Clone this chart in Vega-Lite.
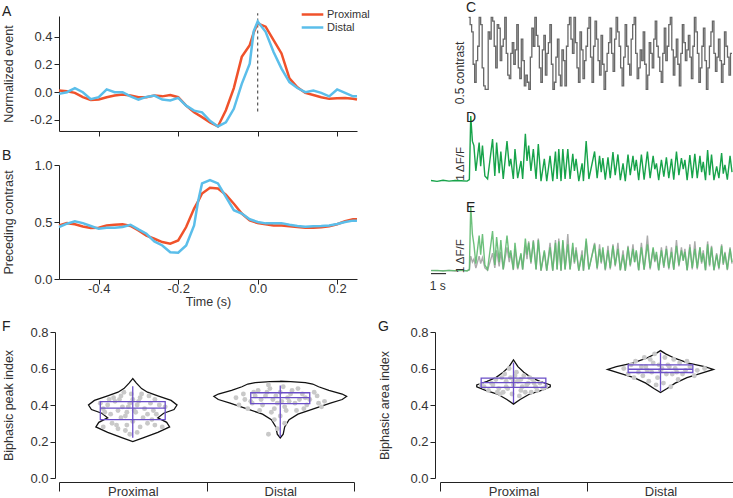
{
"$schema": "https://vega.github.io/schema/vega-lite/v6.json",
"padding": {"left": 2, "top": 0, "right": 0, "bottom": 0},
"config": {
  "view": {"stroke": null},
  "font": "Liberation Sans",
  "axis": {"labelFontSize": 13, "titleFontSize": 12.5, "titleFontWeight": "normal", "labelColor": "#333", "titleColor": "#333", "domainColor": "#222", "tickColor": "#222", "grid": false, "tickSize": 5, "labelPadding": 2, "titlePadding": 4, "labelOverlap": false},
  "title": {"fontSize": 14, "fontWeight": "normal", "color": "#222", "anchor": "start"}
},
"datasets": {
  "A": [
    {"t":-0.50,"Proximal":0.012,"Distal":-0.012},{"t":-0.48,"Proximal":0.007,"Distal":0.0},{"t":-0.46,"Proximal":-0.005,"Distal":0.03},{"t":-0.44,"Proximal":-0.036,"Distal":0.0},{"t":-0.42,"Proximal":-0.056,"Distal":-0.05},{"t":-0.40,"Proximal":-0.053,"Distal":-0.036},{"t":-0.38,"Proximal":-0.036,"Distal":0.02},{"t":-0.36,"Proximal":-0.024,"Distal":0.0},{"t":-0.34,"Proximal":-0.017,"Distal":0.0},{"t":-0.32,"Proximal":-0.024,"Distal":-0.03},{"t":-0.30,"Proximal":-0.036,"Distal":-0.053},{"t":-0.28,"Proximal":-0.036,"Distal":-0.034},{"t":-0.26,"Proximal":-0.024,"Distal":-0.024},{"t":-0.24,"Proximal":-0.03,"Distal":-0.053},{"t":-0.22,"Proximal":-0.02,"Distal":-0.06},{"t":-0.20,"Proximal":-0.036,"Distal":-0.041},{"t":-0.18,"Proximal":-0.097,"Distal":-0.097},{"t":-0.16,"Proximal":-0.145,"Distal":-0.133},{"t":-0.14,"Proximal":-0.18,"Distal":-0.145},{"t":-0.12,"Proximal":-0.218,"Distal":-0.206},{"t":-0.10,"Proximal":-0.247,"Distal":-0.247},{"t":-0.08,"Proximal":-0.13,"Distal":-0.218},{"t":-0.06,"Proximal":0.03,"Distal":-0.12},{"t":-0.04,"Proximal":0.255,"Distal":0.06},{"t":-0.02,"Proximal":0.34,"Distal":0.206},{"t":-0.01,"Proximal":0.43,"Distal":0.44},{"t":0.0,"Proximal":0.497,"Distal":0.51},{"t":0.02,"Proximal":0.473,"Distal":0.436},{"t":0.04,"Proximal":0.376,"Distal":0.29},{"t":0.06,"Proximal":0.28,"Distal":0.17},{"t":0.08,"Proximal":0.1,"Distal":0.073},{"t":0.10,"Proximal":0.036,"Distal":0.03},{"t":0.12,"Proximal":-0.005,"Distal":0.0},{"t":0.14,"Proximal":-0.02,"Distal":0.012},{"t":0.16,"Proximal":-0.036,"Distal":-0.005},{"t":0.18,"Proximal":-0.048,"Distal":-0.03},{"t":0.20,"Proximal":-0.044,"Distal":0.02},{"t":0.22,"Proximal":-0.041,"Distal":-0.005},{"t":0.24,"Proximal":-0.048,"Distal":-0.03},{"t":0.25,"Proximal":-0.053,"Distal":-0.03}
  ],
  "B": [
    {"t":-0.50,"Proximal":0.47,"Distal":0.456},{"t":-0.48,"Proximal":0.49,"Distal":0.485},{"t":-0.46,"Proximal":0.48,"Distal":0.506},{"t":-0.44,"Proximal":0.46,"Distal":0.49},{"t":-0.42,"Proximal":0.447,"Distal":0.465},{"t":-0.40,"Proximal":0.45,"Distal":0.44},{"t":-0.38,"Proximal":0.47,"Distal":0.45},{"t":-0.36,"Proximal":0.476,"Distal":0.45},{"t":-0.34,"Proximal":0.48,"Distal":0.456},{"t":-0.32,"Proximal":0.465,"Distal":0.476},{"t":-0.30,"Proximal":0.426,"Distal":0.435},{"t":-0.28,"Proximal":0.38,"Distal":0.397},{"t":-0.26,"Proximal":0.353,"Distal":0.33},{"t":-0.24,"Proximal":0.324,"Distal":0.294},{"t":-0.22,"Proximal":0.31,"Distal":0.235},{"t":-0.20,"Proximal":0.338,"Distal":0.23},{"t":-0.18,"Proximal":0.456,"Distal":0.294},{"t":-0.16,"Proximal":0.618,"Distal":0.47},{"t":-0.15,"Proximal":0.68,"Distal":0.68},{"t":-0.14,"Proximal":0.75,"Distal":0.838},{"t":-0.12,"Proximal":0.8,"Distal":0.868},{"t":-0.10,"Proximal":0.794,"Distal":0.838},{"t":-0.08,"Proximal":0.74,"Distal":0.72},{"t":-0.06,"Proximal":0.66,"Distal":0.603},{"t":-0.04,"Proximal":0.574,"Distal":0.574},{"t":-0.02,"Proximal":0.515,"Distal":0.524},{"t":0.0,"Proximal":0.49,"Distal":0.5},{"t":0.02,"Proximal":0.48,"Distal":0.488},{"t":0.04,"Proximal":0.47,"Distal":0.488},{"t":0.06,"Proximal":0.47,"Distal":0.49},{"t":0.08,"Proximal":0.462,"Distal":0.476},{"t":0.10,"Proximal":0.456,"Distal":0.465},{"t":0.12,"Proximal":0.45,"Distal":0.459},{"t":0.14,"Proximal":0.45,"Distal":0.462},{"t":0.16,"Proximal":0.453,"Distal":0.465},{"t":0.18,"Proximal":0.462,"Distal":0.47},{"t":0.20,"Proximal":0.48,"Distal":0.482},{"t":0.22,"Proximal":0.506,"Distal":0.5},{"t":0.24,"Proximal":0.524,"Distal":0.512},{"t":0.25,"Proximal":0.524,"Distal":0.51}
  ],
  "stim": [
    {"t":2.5,"c":1},{"t":2.6,"c":0.9},{"t":2.7,"c":0.8},{"t":2.8,"c":0.35},{"t":2.9,"c":0.1},{"t":3.0,"c":0.4},{"t":3.1,"c":0.6},{"t":3.2,"c":1},{"t":3.3,"c":0.9},{"t":3.4,"c":0.3},{"t":3.5,"c":0.05},{"t":3.6,"c":0.0},{"t":3.7,"c":0},{"t":3.8,"c":0.8},{"t":3.9,"c":0.7},{"t":4.0,"c":1},{"t":4.1,"c":0.95},{"t":4.2,"c":0.6},{"t":4.3,"c":0.3},{"t":4.4,"c":0.9},{"t":4.5,"c":0.85},{"t":4.6,"c":0.4},{"t":4.7,"c":0.6},{"t":4.8,"c":0.7},{"t":4.9,"c":1},{"t":5.0,"c":0.5},{"t":5.1,"c":0.2},{"t":5.2,"c":0.15},{"t":5.3,"c":0.5},{"t":5.4,"c":0.65},{"t":5.5,"c":0.35},{"t":5.6,"c":0.55},{"t":5.7,"c":0.9},{"t":5.8,"c":0.3},{"t":5.9,"c":0.15},{"t":6.0,"c":0.7},{"t":6.1,"c":0.4},{"t":6.2,"c":0.05},{"t":6.3,"c":0.2},{"t":6.4,"c":0.1},{"t":6.5,"c":0},{"t":6.6,"c":0.45},{"t":6.7,"c":0.85},{"t":6.8,"c":0.6},{"t":6.9,"c":1},{"t":7.0,"c":0.75},{"t":7.1,"c":0.6},{"t":7.2,"c":0.3},{"t":7.3,"c":0.1},{"t":7.4,"c":0.55},{"t":7.5,"c":0.75},{"t":7.6,"c":0.2},{"t":7.7,"c":0.5},{"t":7.8,"c":0.65},{"t":7.9,"c":0.9},{"t":8.0,"c":0.35},{"t":8.1,"c":0},{"t":8.2,"c":0.1},{"t":8.3,"c":0.45},{"t":8.4,"c":0.7},{"t":8.5,"c":0.2},{"t":8.6,"c":0.05},{"t":8.7,"c":0.55},{"t":8.8,"c":0.4},{"t":8.9,"c":0.05},{"t":9.0,"c":0.6},{"t":9.1,"c":0.9},{"t":9.2,"c":1},{"t":9.3,"c":0.7},{"t":9.4,"c":0.5},{"t":9.5,"c":1},{"t":9.6,"c":0.65},{"t":9.7,"c":0.3},{"t":9.8,"c":0.1},{"t":9.9,"c":0.8},{"t":10.0,"c":0.55},{"t":10.1,"c":0.15},{"t":10.2,"c":0.4},{"t":10.3,"c":0.6},{"t":10.4,"c":0.85},{"t":10.5,"c":1},{"t":10.6,"c":0.45},{"t":10.7,"c":0.1},{"t":10.8,"c":0.6},{"t":10.9,"c":0.95},{"t":11.0,"c":0.7},{"t":11.1,"c":0.4},{"t":11.2,"c":0.2},{"t":11.3,"c":0.75},{"t":11.4,"c":0.35},{"t":11.5,"c":0},{"t":11.6,"c":0.25},{"t":11.7,"c":0.5},{"t":11.8,"c":0.65},{"t":11.9,"c":0.85},{"t":12.0,"c":0.5},{"t":12.1,"c":0.25},{"t":12.2,"c":0.7},{"t":12.3,"c":1},{"t":12.4,"c":0.8},{"t":12.5,"c":0.6},{"t":12.6,"c":0.3},{"t":12.7,"c":0.05},{"t":12.8,"c":0.45},{"t":12.9,"c":0.9},{"t":13.0,"c":0.6},{"t":13.1,"c":0.35},{"t":13.2,"c":0.2},{"t":13.3,"c":0.7},{"t":13.4,"c":0.9},{"t":13.5,"c":1},{"t":13.6,"c":0.5},{"t":13.7,"c":0.15},{"t":13.8,"c":0.3},{"t":13.9,"c":0.55},{"t":14.0,"c":0.4},{"t":14.1,"c":0.8},{"t":14.2,"c":0.35},{"t":14.3,"c":0},{"t":14.4,"c":0.2},{"t":14.5,"c":0.65},{"t":14.6,"c":0.5},{"t":14.7,"c":0.3},{"t":14.8,"c":0.7},{"t":14.9,"c":0.95},{"t":15.0,"c":0.6},{"t":15.1,"c":0.45},{"t":15.2,"c":0.25},{"t":15.3,"c":0.1},{"t":15.4,"c":0.5},{"t":15.5,"c":0.85},{"t":15.6,"c":0.4},{"t":15.7,"c":0.6},{"t":15.8,"c":0.9},{"t":15.9,"c":1},{"t":16.0,"c":0.55},{"t":16.1,"c":0.2},{"t":16.2,"c":0.45},{"t":16.3,"c":0.7},{"t":16.4,"c":0.35},{"t":16.5,"c":0.05},{"t":16.6,"c":0.5},{"t":16.7,"c":0.9},{"t":16.8,"c":0.65},{"t":16.9,"c":0.4},{"t":17.0,"c":0.55},{"t":17.1,"c":0.75},{"t":17.2,"c":0.45},{"t":17.3,"c":0.15},{"t":17.4,"c":0.6},{"t":17.5,"c":1},{"t":17.6,"c":0.8},{"t":17.7,"c":0.5},{"t":17.8,"c":0.1},{"t":17.9,"c":0.3},{"t":18.0,"c":0.6},{"t":18.1,"c":0.85},{"t":18.2,"c":0.4},{"t":18.3,"c":0},{"t":18.4,"c":0.3},{"t":18.5,"c":0.6},{"t":18.6,"c":0.8},{"t":18.7,"c":0.95},{"t":18.8,"c":0.5},{"t":18.9,"c":0.25},{"t":19.0,"c":0.45},{"t":19.1,"c":0.7},{"t":19.2,"c":0.4},{"t":19.3,"c":0.1},{"t":19.4,"c":0.35},{"t":19.5,"c":0.8},{"t":19.6,"c":0.6},{"t":19.7,"c":0.45},{"t":19.8,"c":0.2},{"t":19.9,"c":0.5},{"t":20.0,"c":0.5}
  ],
  "traces": [
    {"t":0,"d":0.02,"g":0.01,"y":0.02},{"t":0.4,"d":-0.01,"g":0.02,"y":0.01},{"t":0.8,"d":0.03,"g":0.0,"y":0.01},{"t":1.2,"d":0.0,"g":0.02,"y":0.02},{"t":1.6,"d":0.02,"g":0.01,"y":0.0},{"t":2.0,"d":0.01,"g":0.03,"y":0.01},{"t":2.4,"d":0.0,"g":0.0,"y":0.01},{"t":2.55,"d":0.05,"g":0.05,"y":0.03},
    {"t":2.64,"d":2.2,"g":2.2,"y":0.5},{"t":2.75,"d":1.35,"g":1.25,"y":0.3},{"t":2.85,"d":1.2,"g":0.9,"y":0.4},{"t":2.98,"d":0.34,"g":0.25,"y":0.1},{"t":3.2,"d":1.3,"g":1.2,"y":0.5},{"t":3.3,"d":0.5,"g":0.55,"y":0.25},{"t":3.42,"d":1.2,"g":1.25,"y":0.45},{"t":3.58,"d":0.17,"g":0.2,"y":0.1},{"t":3.76,"d":0.07,"g":0.05,"y":0.02},{"t":4.09,"d":1.42,"g":1.35,"y":0.6},{"t":4.24,"d":0.17,"g":0.2,"y":0.1},{"t":4.36,"d":1.3,"g":1.15,"y":0.7},{"t":4.53,"d":0.27,"g":0.3,"y":0.15},{"t":4.64,"d":1.0,"g":1.05,"y":0.65},{"t":4.8,"d":0.07,"g":0.05,"y":0.05},{"t":5.05,"d":1.35,"g":1.2,"y":0.8},{"t":5.2,"d":0.5,"g":0.45,"y":0.3},{"t":5.3,"d":0.75,"g":0.7,"y":0.6},{"t":5.47,"d":0.07,"g":0.05,"y":0.03},{"t":5.58,"d":1.08,"g":0.95,"y":0.75},{"t":5.76,"d":0.1,"g":0.1,"y":0.05},{"t":5.98,"d":0.68,"g":0.6,"y":0.55},{"t":6.09,"d":0.07,"g":0.05,"y":0.04},{"t":6.27,"d":1.6,"g":1.1,"y":0.85},{"t":6.38,"d":0.68,"g":0.55,"y":0.4},{"t":6.49,"d":1.2,"g":0.95,"y":1.0},{"t":6.64,"d":0.34,"g":0.3,"y":0.25},{"t":6.8,"d":1.08,"g":1.0,"y":1.05},{"t":6.98,"d":0.07,"g":0.05,"y":0.05},{"t":7.13,"d":1.25,"g":1.05,"y":1.1},{"t":7.31,"d":0.0,"g":0.02,"y":0.0},{"t":7.53,"d":0.75,"g":0.7,"y":0.65},{"t":7.69,"d":0.0,"g":0.02,"y":0.0},{"t":7.91,"d":0.85,"g":0.8,"y":0.95},{"t":8.09,"d":0.0,"g":0.02,"y":0.0},{"t":8.27,"d":1.0,"g":0.95,"y":1.05},{"t":8.38,"d":0.07,"g":0.05,"y":0.05},{"t":8.49,"d":1.08,"g":1.0,"y":1.1},{"t":8.64,"d":0.0,"g":0.02,"y":0.0},{"t":8.76,"d":1.08,"g":1.05,"y":1.0},{"t":8.91,"d":0.07,"g":0.05,"y":0.05},{"t":9.09,"d":1.08,"g":0.9,"y":1.25},{"t":9.24,"d":0.07,"g":0.05,"y":0.05},{"t":9.42,"d":0.92,"g":0.95,"y":0.8},{"t":9.53,"d":0.34,"g":0.3,"y":0.25},{"t":9.64,"d":0.75,"g":0.7,"y":0.8},{"t":9.82,"d":0.0,"g":0.02,"y":0.0},{"t":10.04,"d":0.6,"g":0.55,"y":0.7},{"t":10.13,"d":0.0,"g":0.02,"y":0.0},{"t":10.31,"d":1.35,"g":1.1,"y":1.0},{"t":10.49,"d":0.07,"g":0.05,"y":0.05},
    {"t":10.87,"d":1.0,"g":0.9,"y":0.95},{"t":11.04,"d":0.1,"g":0.1,"y":0.05},{"t":11.2,"d":0.85,"g":0.75,"y":0.9},{"t":11.31,"d":0.3,"g":0.3,"y":0.25},{"t":11.42,"d":0.78,"g":0.8,"y":0.7},{"t":11.58,"d":0.05,"g":0.05,"y":0.02},{"t":11.76,"d":0.8,"g":0.7,"y":0.85},{"t":11.91,"d":0.1,"g":0.1,"y":0.05},{"t":12.09,"d":0.98,"g":0.85,"y":0.9},{"t":12.24,"d":0.2,"g":0.2,"y":0.15},{"t":12.42,"d":0.9,"g":0.75,"y":0.95},{"t":12.58,"d":0.03,"g":0.03,"y":0.02},{"t":12.76,"d":0.6,"g":0.55,"y":0.7},{"t":12.91,"d":0.0,"g":0.02,"y":0.0},{"t":13.09,"d":0.9,"g":0.8,"y":0.85},{"t":13.24,"d":0.2,"g":0.2,"y":0.15},{"t":13.42,"d":0.85,"g":0.75,"y":0.9},{"t":13.53,"d":0.35,"g":0.3,"y":0.3},{"t":13.64,"d":0.72,"g":0.7,"y":0.65},{"t":13.8,"d":0.03,"g":0.03,"y":0.02},{"t":13.98,"d":0.9,"g":0.8,"y":0.95},{"t":14.16,"d":0.05,"g":0.05,"y":0.03},{"t":14.38,"d":1.0,"g":0.9,"y":1.2},{"t":14.56,"d":0.1,"g":0.1,"y":0.05},{"t":14.76,"d":0.85,"g":0.8,"y":0.75},{"t":14.87,"d":0.4,"g":0.35,"y":0.3},{"t":14.98,"d":0.6,"g":0.65,"y":0.55},{"t":15.13,"d":0.03,"g":0.03,"y":0.02},{"t":15.31,"d":0.72,"g":0.7,"y":0.8},{"t":15.47,"d":0.15,"g":0.15,"y":0.1},{"t":15.64,"d":0.8,"g":0.75,"y":0.85},{"t":15.8,"d":0.1,"g":0.1,"y":0.05},{"t":15.98,"d":0.75,"g":0.65,"y":0.8},{"t":16.13,"d":0.05,"g":0.05,"y":0.03},{"t":16.31,"d":1.0,"g":0.85,"y":1.05},{"t":16.47,"d":0.2,"g":0.2,"y":0.15},{"t":16.64,"d":0.78,"g":0.7,"y":0.8},{"t":16.76,"d":0.4,"g":0.35,"y":0.35},{"t":16.87,"d":0.72,"g":0.65,"y":0.75},{"t":17.02,"d":0.03,"g":0.03,"y":0.02},{"t":17.2,"d":0.88,"g":0.8,"y":0.9},{"t":17.36,"d":0.1,"g":0.1,"y":0.05},{"t":17.53,"d":0.92,"g":0.75,"y":1.0},{"t":17.69,"d":0.1,"g":0.1,"y":0.05},{"t":17.87,"d":0.85,"g":0.8,"y":0.8},{"t":17.98,"d":0.3,"g":0.3,"y":0.25},{"t":18.09,"d":0.65,"g":0.6,"y":0.7},{"t":18.24,"d":0.03,"g":0.03,"y":0.02},{"t":18.38,"d":1.05,"g":0.9,"y":1.0},{"t":18.51,"d":0.2,"g":0.2,"y":0.15},{"t":18.64,"d":0.9,"g":0.8,"y":0.85},{"t":18.8,"d":0.03,"g":0.03,"y":0.02},{"t":18.98,"d":0.5,"g":0.55,"y":0.6},{"t":19.13,"d":0.1,"g":0.1,"y":0.05},{"t":19.31,"d":0.95,"g":0.85,"y":0.9},{"t":19.42,"d":0.25,"g":0.25,"y":0.2},{"t":19.53,"d":0.55,"g":0.6,"y":0.65},{"t":19.69,"d":0.05,"g":0.05,"y":0.03},{"t":19.87,"d":0.85,"g":0.75,"y":0.8},{"t":20.0,"d":0.3,"g":0.3,"y":0.25}
  ],
  "violinF": [
    {"g":"Proximal","v":0.20,"lo":0.5,"hi":0.5},{"g":"Proximal","v":0.22,"lo":0.43,"hi":0.57},{"g":"Proximal","v":0.25,"lo":0.33,"hi":0.67},{"g":"Proximal","v":0.28,"lo":0.25,"hi":0.75},{"g":"Proximal","v":0.305,"lo":0.27,"hi":0.73},{"g":"Proximal","v":0.33,"lo":0.33,"hi":0.67},{"g":"Proximal","v":0.355,"lo":0.29,"hi":0.71},{"g":"Proximal","v":0.375,"lo":0.22,"hi":0.78},{"g":"Proximal","v":0.40,"lo":0.2,"hi":0.8},{"g":"Proximal","v":0.425,"lo":0.24,"hi":0.76},{"g":"Proximal","v":0.45,"lo":0.33,"hi":0.67},{"g":"Proximal","v":0.47,"lo":0.4,"hi":0.6},{"g":"Proximal","v":0.49,"lo":0.44,"hi":0.56},{"g":"Proximal","v":0.52,"lo":0.475,"hi":0.525},{"g":"Proximal","v":0.545,"lo":0.5,"hi":0.5},
    {"g":"Distal","v":0.22,"lo":1.5,"hi":1.5},{"g":"Distal","v":0.24,"lo":1.48,"hi":1.52},{"g":"Distal","v":0.28,"lo":1.47,"hi":1.53},{"g":"Distal","v":0.32,"lo":1.44,"hi":1.56},{"g":"Distal","v":0.35,"lo":1.38,"hi":1.62},{"g":"Distal","v":0.38,"lo":1.27,"hi":1.73},{"g":"Distal","v":0.41,"lo":1.16,"hi":1.84},{"g":"Distal","v":0.43,"lo":1.08,"hi":1.92},{"g":"Distal","v":0.447,"lo":1.05,"hi":1.95},{"g":"Distal","v":0.46,"lo":1.08,"hi":1.92},{"g":"Distal","v":0.48,"lo":1.17,"hi":1.83},{"g":"Distal","v":0.50,"lo":1.24,"hi":1.76},{"g":"Distal","v":0.515,"lo":1.28,"hi":1.72},{"g":"Distal","v":0.523,"lo":1.33,"hi":1.67},{"g":"Distal","v":0.528,"lo":1.43,"hi":1.57},{"g":"Distal","v":0.53,"lo":1.5,"hi":1.5}
  ],
  "violinG": [
    {"g":"Proximal","v":0.405,"lo":0.5,"hi":0.5},{"g":"Proximal","v":0.43,"lo":0.455,"hi":0.545},{"g":"Proximal","v":0.46,"lo":0.39,"hi":0.61},{"g":"Proximal","v":0.48,"lo":0.31,"hi":0.69},{"g":"Proximal","v":0.50,"lo":0.25,"hi":0.75},{"g":"Proximal","v":0.51,"lo":0.25,"hi":0.75},{"g":"Proximal","v":0.53,"lo":0.32,"hi":0.68},{"g":"Proximal","v":0.55,"lo":0.38,"hi":0.62},{"g":"Proximal","v":0.58,"lo":0.43,"hi":0.57},{"g":"Proximal","v":0.61,"lo":0.47,"hi":0.53},{"g":"Proximal","v":0.647,"lo":0.5,"hi":0.5},
    {"g":"Distal","v":0.468,"lo":1.5,"hi":1.5},{"g":"Distal","v":0.49,"lo":1.455,"hi":1.545},{"g":"Distal","v":0.52,"lo":1.4,"hi":1.6},{"g":"Distal","v":0.55,"lo":1.32,"hi":1.68},{"g":"Distal","v":0.575,"lo":1.22,"hi":1.78},{"g":"Distal","v":0.595,"lo":1.14,"hi":1.86},{"g":"Distal","v":0.61,"lo":1.2,"hi":1.8},{"g":"Distal","v":0.63,"lo":1.31,"hi":1.69},{"g":"Distal","v":0.655,"lo":1.4,"hi":1.6},{"g":"Distal","v":0.68,"lo":1.465,"hi":1.535},{"g":"Distal","v":0.698,"lo":1.5,"hi":1.5}
  ],
  "pointsF": [
    {"x":0.38,"v":0.42},{"x":0.42,"v":0.45},{"x":0.55,"v":0.44},{"x":0.62,"v":0.41},{"x":0.33,"v":0.40},{"x":0.47,"v":0.39},{"x":0.58,"v":0.38},{"x":0.68,"v":0.40},{"x":0.28,"v":0.41},{"x":0.40,"v":0.37},{"x":0.52,"v":0.36},{"x":0.64,"v":0.37},{"x":0.35,"v":0.35},{"x":0.45,"v":0.34},{"x":0.60,"v":0.35},{"x":0.30,"v":0.38},{"x":0.72,"v":0.39},{"x":0.50,"v":0.43},{"x":0.44,"v":0.47},{"x":0.56,"v":0.46},{"x":0.37,"v":0.44},{"x":0.65,"v":0.43},{"x":0.48,"v":0.41},{"x":0.53,"v":0.40},{"x":0.43,"v":0.39},{"x":0.34,"v":0.43},{"x":0.61,"v":0.45},{"x":0.49,"v":0.46},{"x":0.57,"v":0.33},{"x":0.42,"v":0.33},{"x":0.36,"v":0.30},{"x":0.46,"v":0.29},{"x":0.55,"v":0.28},{"x":0.65,"v":0.29},{"x":0.30,"v":0.28},{"x":0.40,"v":0.27},{"x":0.50,"v":0.31},{"x":0.60,"v":0.30},{"x":0.70,"v":0.28},{"x":0.45,"v":0.26},{"x":0.53,"v":0.25},{"x":0.48,"v":0.24},{"x":0.39,"v":0.29},{"x":0.63,"v":0.32},{"x":0.51,"v":0.37},{"x":0.66,"v":0.35},{"x":0.31,"v":0.36},{"x":0.54,"v":0.42},{"x":0.46,"v":0.36},{"x":0.41,"v":0.43},
    {"x":1.20,"v":0.44},{"x":1.25,"v":0.46},{"x":1.30,"v":0.42},{"x":1.35,"v":0.48},{"x":1.40,"v":0.45},{"x":1.45,"v":0.43},{"x":1.50,"v":0.47},{"x":1.55,"v":0.44},{"x":1.60,"v":0.41},{"x":1.65,"v":0.46},{"x":1.70,"v":0.43},{"x":1.75,"v":0.45},{"x":1.80,"v":0.42},{"x":1.22,"v":0.40},{"x":1.28,"v":0.38},{"x":1.33,"v":0.45},{"x":1.38,"v":0.40},{"x":1.43,"v":0.49},{"x":1.48,"v":0.41},{"x":1.53,"v":0.39},{"x":1.58,"v":0.48},{"x":1.63,"v":0.43},{"x":1.68,"v":0.40},{"x":1.73,"v":0.47},{"x":1.78,"v":0.39},{"x":1.26,"v":0.43},{"x":1.36,"v":0.37},{"x":1.46,"v":0.38},{"x":1.56,"v":0.42},{"x":1.66,"v":0.38},{"x":1.76,"v":0.41},{"x":1.32,"v":0.47},{"x":1.42,"v":0.51},{"x":1.52,"v":0.50},{"x":1.62,"v":0.49},{"x":1.47,"v":0.45},{"x":1.57,"v":0.46},{"x":1.37,"v":0.43},{"x":1.67,"v":0.44},{"x":1.44,"v":0.36},{"x":1.54,"v":0.37},{"x":1.50,"v":0.34},{"x":1.46,"v":0.32},{"x":1.53,"v":0.30},{"x":1.48,"v":0.27},{"x":1.42,"v":0.24},{"x":1.51,"v":0.42},{"x":1.41,"v":0.47},{"x":1.61,"v":0.37},{"x":1.31,"v":0.41}
  ],
  "pointsG": [
    {"x":0.30,"v":0.50},{"x":0.35,"v":0.52},{"x":0.40,"v":0.49},{"x":0.45,"v":0.53},{"x":0.50,"v":0.51},{"x":0.55,"v":0.48},{"x":0.60,"v":0.52},{"x":0.65,"v":0.50},{"x":0.70,"v":0.49},{"x":0.33,"v":0.48},{"x":0.38,"v":0.54},{"x":0.43,"v":0.47},{"x":0.48,"v":0.55},{"x":0.53,"v":0.53},{"x":0.58,"v":0.47},{"x":0.63,"v":0.54},{"x":0.68,"v":0.52},{"x":0.36,"v":0.51},{"x":0.41,"v":0.46},{"x":0.46,"v":0.49},{"x":0.51,"v":0.56},{"x":0.56,"v":0.50},{"x":0.61,"v":0.55},{"x":0.66,"v":0.48},{"x":0.44,"v":0.57},{"x":0.52,"v":0.58},{"x":0.47,"v":0.60},{"x":0.57,"v":0.56},{"x":0.42,"v":0.55},{"x":0.49,"v":0.46},{"x":0.54,"v":0.45},{"x":0.62,"v":0.47},{"x":0.39,"v":0.47},{"x":0.72,"v":0.50},{"x":0.28,"v":0.51},{"x":0.50,"v":0.53},{"x":0.59,"v":0.51},{"x":0.45,"v":0.50},{"x":0.55,"v":0.54},{"x":0.64,"v":0.52},
    {"x":1.25,"v":0.60},{"x":1.30,"v":0.62},{"x":1.35,"v":0.58},{"x":1.40,"v":0.61},{"x":1.45,"v":0.63},{"x":1.50,"v":0.59},{"x":1.55,"v":0.62},{"x":1.60,"v":0.60},{"x":1.65,"v":0.57},{"x":1.70,"v":0.61},{"x":1.75,"v":0.59},{"x":1.80,"v":0.60},{"x":1.28,"v":0.57},{"x":1.33,"v":0.64},{"x":1.38,"v":0.56},{"x":1.43,"v":0.65},{"x":1.48,"v":0.55},{"x":1.53,"v":0.66},{"x":1.58,"v":0.57},{"x":1.63,"v":0.63},{"x":1.68,"v":0.64},{"x":1.73,"v":0.56},{"x":1.32,"v":0.55},{"x":1.42,"v":0.53},{"x":1.52,"v":0.52},{"x":1.62,"v":0.54},{"x":1.47,"v":0.51},{"x":1.57,"v":0.50},{"x":1.37,"v":0.61},{"x":1.67,"v":0.59},{"x":1.44,"v":0.58},{"x":1.54,"v":0.57},{"x":1.49,"v":0.62},{"x":1.59,"v":0.65},{"x":1.39,"v":0.66},{"x":1.46,"v":0.68},{"x":1.51,"v":0.60},{"x":1.56,"v":0.61},{"x":1.41,"v":0.59},{"x":1.61,"v":0.58}
  ],
  "boxF": [
    {"g":"Proximal","c":0.5,"lo":0.28,"hi":0.72,"q1":0.32,"med":0.383,"q3":0.419,"wmin":0.22,"wmax":0.503},
    {"g":"Distal","c":1.5,"lo":1.3,"hi":1.7,"q1":0.408,"med":0.44,"q3":0.467,"wmin":0.225,"wmax":0.507}
  ],
  "boxG": [
    {"g":"Proximal","c":0.5,"lo":0.28,"hi":0.72,"q1":0.497,"med":0.523,"q3":0.547,"wmin":0.41,"wmax":0.632},
    {"g":"Distal","c":1.5,"lo":1.28,"hi":1.72,"q1":0.578,"med":0.596,"q3":0.62,"wmin":0.474,"wmax":0.687}
  ]
},
"spacing": 12,
"vconcat": [
  {
    "spacing": 66,
    "hconcat": [
      {
        "spacing": 12,
        "vconcat": [
          {
            "width": 298, "height": 115,
            "title": {"text": "A", "anchor": "start", "frame": "bounds", "offset": -6},
            "layer": [
              {
                "data": {"values": [{"t": 0, "y1": -0.14, "y2": 0.57}]},
                "mark": {"type": "rule", "strokeDash": [3, 3], "color": "#555", "strokeWidth": 1.2},
                "encoding": {"x": {"field": "t", "type": "quantitative", "title": null}, "y": {"field": "y1", "type": "quantitative", "title": "Normalized event"}, "y2": {"field": "y2"}}
              },
              {
                "data": {"name": "A"},
                "transform": [{"fold": ["Proximal", "Distal"], "as": ["s", "v"]}],
                "mark": {"type": "line", "strokeWidth": 2.5},
                "encoding": {
                  "x": {"field": "t", "type": "quantitative", "scale": {"domain": [-0.5, 0.25], "nice": false}, "axis": {"values": [-0.4, -0.2, 0, 0.2], "tickCount": 20, "labels": false, "title": null}},
                  "y": {"field": "v", "type": "quantitative", "scale": {"domain": [-0.28, 0.55], "nice": false}, "axis": {"values": [-0.2, 0, 0.2, 0.4], "tickCount": 20, "minExtent": 40, "labelExpr": "datum.value < 0 ? '-' + format(-datum.value, '.1f') : format(datum.value, '.1f')", "title": "Normalized event"}},
                  "color": {"field": "s", "type": "nominal", "scale": {"domain": ["Proximal", "Distal"], "range": ["#F0522B", "#5BBEEA"]}, "legend": {"orient": "none", "legendX": 246, "legendY": -9, "title": null, "symbolType": "M-1.8,0H1.8", "symbolStrokeWidth": 2.5, "symbolSize": 144, "labelOffset": 7, "labelFontSize": 11, "labelColor": "#333", "rowPadding": 0}}
                }
              }
            ]
          },
          {
            "width": 298, "height": 114,
            "title": {"text": "B", "anchor": "start", "frame": "bounds", "offset": -4},
            "data": {"name": "B"},
            "transform": [{"fold": ["Proximal", "Distal"], "as": ["s", "v"]}],
            "mark": {"type": "line", "strokeWidth": 2.5},
            "encoding": {
              "x": {"field": "t", "type": "quantitative", "scale": {"domain": [-0.5, 0.25], "nice": false}, "axis": {"values": [-0.4, -0.2, 0, 0.2], "tickCount": 20, "labelPadding": -2, "labelExpr": "datum.value < 0 ? '-' + format(-datum.value, '.1f') : format(datum.value, '.1f')", "title": "Time (s)", "titlePadding": 0}},
              "y": {"field": "v", "type": "quantitative", "scale": {"domain": [0, 1], "nice": false}, "axis": {"values": [0, 0.5, 1], "tickCount": 20, "minExtent": 40, "format": ".1f", "title": "Preceding contrast"}},
              "color": {"field": "s", "type": "nominal", "scale": {"domain": ["Proximal", "Distal"], "range": ["#F0522B", "#5BBEEA"]}, "legend": null}
            }
          }
        ]
      },
      {
        "spacing": 1,
        "vconcat": [
          {
            "width": 301, "height": 94,
            "title": {"text": "C", "anchor": "start", "frame": "group", "dx": 35, "offset": 0},
            "layer": [
              {
                "data": {"name": "stim"},
                "mark": {"type": "line", "interpolate": "step-after", "color": "#686868", "strokeWidth": 1.3},
                "encoding": {"x": {"field": "t", "type": "quantitative", "scale": {"domain": [0, 20], "nice": false}, "axis": null}, "y": {"field": "c", "type": "quantitative", "scale": {"domain": [-0.285, 1.02], "nice": false}, "axis": null}}
              },
              {
                "data": {"values": [{"t": 1.95, "v": 0.23, "s": "0.5 contrast"}]},
                "mark": {"type": "text", "angle": 270, "fontSize": 12, "color": "#333"},
                "encoding": {"x": {"field": "t", "type": "quantitative"}, "y": {"field": "v", "type": "quantitative"}, "text": {"field": "s"}}
              }
            ]
          },
          {
            "width": 301, "height": 89,
            "title": {"text": "D", "anchor": "start", "frame": "group", "dx": 35, "offset": -14},
            "layer": [
              {
                "data": {"name": "traces"},
                "mark": {"type": "line", "color": "#17A34A", "strokeWidth": 1.4},
                "encoding": {"x": {"field": "t", "type": "quantitative", "scale": {"domain": [0, 20], "nice": false}, "axis": null}, "y": {"field": "d", "type": "quantitative", "scale": {"domain": [-0.64, 2.37], "nice": false, "zero": false}, "axis": null}}
              },
              {
                "data": {"values": [{"t": 2.0, "v": 0.58, "s": "1 ΔF/F"}]},
                "mark": {"type": "text", "angle": 270, "fontSize": 11.5, "color": "#333"},
                "encoding": {"x": {"field": "t", "type": "quantitative"}, "y": {"field": "v", "type": "quantitative"}, "text": {"field": "s"}}
              }
            ]
          },
          {
            "width": 301, "height": 90,
            "title": {"text": "E", "anchor": "start", "frame": "group", "dx": 35, "offset": -14},
            "layer": [
              {
                "data": {"name": "traces"},
                "mark": {"type": "line", "color": "#ABABAB", "strokeWidth": 1.4},
                "encoding": {"x": {"field": "t", "type": "quantitative", "scale": {"domain": [0, 20], "nice": false}, "axis": null}, "y": {"field": "y", "type": "quantitative", "scale": {"domain": [-0.68, 2.37], "nice": false, "zero": false}, "axis": null}}
              },
              {
                "data": {"name": "traces"},
                "mark": {"type": "line", "color": "#5DB96E", "strokeWidth": 1.4, "opacity": 0.9},
                "encoding": {"x": {"field": "t", "type": "quantitative"}, "y": {"field": "g", "type": "quantitative"}}
              },
              {
                "data": {"values": [{"t": 2.0, "v": 0.5, "s": "1 ΔF/F"}]},
                "mark": {"type": "text", "angle": 270, "fontSize": 11.5, "color": "#333"},
                "encoding": {"x": {"field": "t", "type": "quantitative"}, "y": {"field": "v", "type": "quantitative"}, "text": {"field": "s"}}
              },
              {
                "data": {"values": [{"t": 0, "t2": 1, "v": -0.09}]},
                "mark": {"type": "rule", "color": "#333", "strokeWidth": 1.2},
                "encoding": {"x": {"field": "t", "type": "quantitative"}, "x2": {"field": "t2"}, "y": {"field": "v", "type": "quantitative"}}
              },
              {
                "data": {"values": [{"t": 0.45, "v": -0.5, "s": "1 s"}]},
                "mark": {"type": "text", "fontSize": 12, "color": "#333"},
                "encoding": {"x": {"field": "t", "type": "quantitative"}, "y": {"field": "v", "type": "quantitative"}, "text": {"field": "s"}}
              }
            ]
          }
        ]
      }
    ]
  },
  {
    "spacing": 23,
    "hconcat": [
      {
        "width": 295, "height": 146,
        "title": {"text": "F", "anchor": "start", "frame": "bounds", "offset": -8},
        "layer": [
          {
            "data": {"name": "violinF"},
            "mark": {"type": "area", "orient": "horizontal", "fill": "white", "stroke": "#111", "strokeWidth": 1.3},
            "encoding": {
              "y": {"field": "v", "type": "quantitative", "title": "Biphasic peak index", "scale": {"domain": [0, 0.8], "nice": false}, "axis": {"values": [0, 0.2, 0.4, 0.6, 0.8], "tickCount": 20, "minExtent": 36, "format": ".1f", "title": "Biphasic peak index", "offset": 4}},
              "x": {"field": "lo", "type": "quantitative", "title": null, "scale": {"domain": [0, 2], "nice": false}, "axis": {"values": [0, 0.5, 1, 1.5, 2], "tickCount": 20, "labelExpr": "datum.value == 0.5 ? 'Proximal' : (datum.value == 1.5 ? 'Distal' : '')", "tickOpacity": {"condition": {"test": "datum.value == 0.5 || datum.value == 1.5", "value": 0}, "value": 1}, "title": null, "tickSize": 9, "offset": 4, "labelPadding": -6}},
              "x2": {"field": "hi"},
              "detail": {"field": "g"}
            }
          },
          {
            "data": {"name": "pointsF"},
            "mark": {"type": "circle", "size": 24, "color": "#C9C9C9", "opacity": 1},
            "encoding": {
              "x": {"field": "x", "type": "quantitative", "title": null},
              "y": {"field": "v", "type": "quantitative", "title": "Biphasic peak index"}
            }
          },
          {
            "data": {"name": "boxF"},
            "mark": {"type": "rect", "filled": false, "stroke": "#6B4FC8", "strokeWidth": 1.3},
            "encoding": {"x": {"field": "lo", "type": "quantitative", "title": null}, "x2": {"field": "hi"}, "y": {"field": "q1", "type": "quantitative", "title": "Biphasic peak index"}, "y2": {"field": "q3"}}
          },
          {
            "data": {"name": "boxF"},
            "mark": {"type": "rule", "color": "#6B4FC8", "strokeWidth": 1.3},
            "encoding": {"x": {"field": "lo", "type": "quantitative", "title": null}, "x2": {"field": "hi"}, "y": {"field": "med", "type": "quantitative", "title": "Biphasic peak index"}}
          },
          {
            "data": {"name": "boxF"},
            "mark": {"type": "rule", "color": "#6B4FC8", "strokeWidth": 1.3},
            "encoding": {"x": {"field": "c", "type": "quantitative", "title": null}, "y": {"field": "wmin", "type": "quantitative", "title": "Biphasic peak index"}, "y2": {"field": "wmax"}}
          }
        ]
      },
      {
        "width": 294, "height": 146,
        "title": {"text": "G", "anchor": "start", "frame": "bounds", "offset": -8},
        "layer": [
          {
            "data": {"name": "violinG"},
            "mark": {"type": "area", "orient": "horizontal", "fill": "white", "stroke": "#111", "strokeWidth": 1.3},
            "encoding": {
              "y": {"field": "v", "type": "quantitative", "title": "Biphasic area index", "scale": {"domain": [0, 0.8], "nice": false}, "axis": {"values": [0, 0.2, 0.4, 0.6, 0.8], "tickCount": 20, "minExtent": 40, "format": ".1f", "title": "Biphasic area index", "offset": 5}},
              "x": {"field": "lo", "type": "quantitative", "title": null, "scale": {"domain": [0, 2], "nice": false}, "axis": {"values": [0, 0.5, 1, 1.5, 2], "tickCount": 20, "labelExpr": "datum.value == 0.5 ? 'Proximal' : (datum.value == 1.5 ? 'Distal' : '')", "tickOpacity": {"condition": {"test": "datum.value == 0.5 || datum.value == 1.5", "value": 0}, "value": 1}, "title": null, "tickSize": 9, "offset": 4, "labelPadding": -6}},
              "x2": {"field": "hi"},
              "detail": {"field": "g"}
            }
          },
          {
            "data": {"name": "pointsG"},
            "mark": {"type": "circle", "size": 24, "color": "#C9C9C9", "opacity": 1},
            "encoding": {
              "x": {"field": "x", "type": "quantitative", "title": null},
              "y": {"field": "v", "type": "quantitative", "title": "Biphasic area index"}
            }
          },
          {
            "data": {"name": "boxG"},
            "mark": {"type": "rect", "filled": false, "stroke": "#6B4FC8", "strokeWidth": 1.3},
            "encoding": {"x": {"field": "lo", "type": "quantitative", "title": null}, "x2": {"field": "hi"}, "y": {"field": "q1", "type": "quantitative", "title": "Biphasic area index"}, "y2": {"field": "q3"}}
          },
          {
            "data": {"name": "boxG"},
            "mark": {"type": "rule", "color": "#6B4FC8", "strokeWidth": 1.3},
            "encoding": {"x": {"field": "lo", "type": "quantitative", "title": null}, "x2": {"field": "hi"}, "y": {"field": "med", "type": "quantitative", "title": "Biphasic area index"}}
          },
          {
            "data": {"name": "boxG"},
            "mark": {"type": "rule", "color": "#6B4FC8", "strokeWidth": 1.3},
            "encoding": {"x": {"field": "c", "type": "quantitative", "title": null}, "y": {"field": "wmin", "type": "quantitative", "title": "Biphasic area index"}, "y2": {"field": "wmax"}}
          }
        ]
      }
    ]
  }
]
}
